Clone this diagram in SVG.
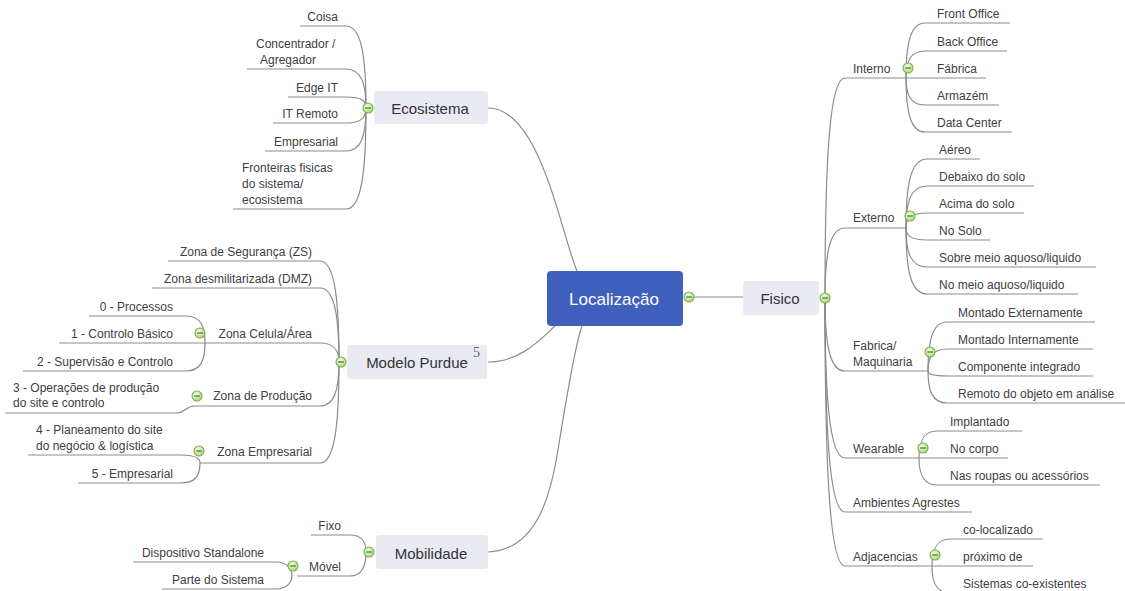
<svg xmlns="http://www.w3.org/2000/svg" xmlns:xlink="http://www.w3.org/1999/xlink" width="1125" height="591" viewBox="0 0 1125 591">
  <style>
    .ln { fill: none; stroke: #8c8c8c; stroke-width: 1.2; }
    .t { font-family: "Liberation Sans", Arial, sans-serif; font-size: 12px; fill: #404040; }
    .e { text-anchor: end; }
    .tb { font-family: "Liberation Sans", Arial, sans-serif; font-size: 15px; fill: #333; text-anchor: middle; }
    .box { fill: #E9EAF3; }
    .sup { font-family: "Liberation Serif", "Times New Roman", serif; font-size: 14px; fill: #666; }
  </style>
  <defs>
    <radialGradient id="togFill" cx="0.4" cy="0.35" r="0.7">
      <stop offset="0" stop-color="#f4fbe9"/>
      <stop offset="1" stop-color="#a9d67a"/>
    </radialGradient>
    <!-- collapse toggle: green circle with a minus sign -->
    <g id="tog">
      <circle cx="0" cy="0" r="5" fill="url(#togFill)" stroke="#74b043" stroke-width="1.1"/>
      <line x1="-2.8" y1="0" x2="2.8" y2="0" stroke="#4d7d2a" stroke-width="1.3"/>
    </g>
  </defs>
  <rect width="1125" height="591" fill="#ffffff"/>

  <!-- connectors -->
  <g id="connectors">
    <!-- root to main topics -->
    <path class="ln" d="M694,297 H743"/>
    <path class="ln" d="M488,108 C540,108 560,230 577,271"/>
    <path class="ln" d="M488,362 C520,362 540,340 555,326"/>
    <path class="ln" d="M488,552 C535,550 550,500 558,450 S575,345 582,326"/>

    <!-- Fisico branches -->
    <path class="ln" d="M825,298 C825,166 829,78 845,78 H906"/>
    <path class="ln" d="M825,298 C825,256 829,228 845,228 H906"/>
    <path class="ln" d="M825,298 C825,342 829,371 845,371 H928"/>
    <path class="ln" d="M825,298 C825,394 829,458 845,458 H919"/>
    <path class="ln" d="M825,298 C825,426 829,512 845,512 H972"/>
    <path class="ln" d="M825,298 C825,459 829,566 845,566 H932"/>

    <!-- Interno -->
    <path class="ln" d="M906,78 C906,45 910,23 925,23 H1010"/>
    <path class="ln" d="M906,78 C906,62 910,51 925,51 H1007"/>
    <path class="ln" d="M906,78 H986"/>
    <path class="ln" d="M906,78 C906,94 910,105 925,105 H999"/>
    <path class="ln" d="M906,78 C906,110 910,132 925,132 H1012"/>

    <!-- Externo -->
    <path class="ln" d="M906,228 C906,187 910,159 927,159 H980"/>
    <path class="ln" d="M906,228 C906,203 910,186 927,186 H1034"/>
    <path class="ln" d="M906,228 C906,219 910,213 927,213 H1024"/>
    <path class="ln" d="M906,228 C906,235 910,240 927,240 H990"/>
    <path class="ln" d="M906,228 C906,251 910,267 927,267 H1096"/>
    <path class="ln" d="M906,228 C906,268 910,294 927,294 H1078"/>

    <!-- Fabrica/Maquinaria -->
    <path class="ln" d="M928,371 C928,342 932,322 947,322 H1095"/>
    <path class="ln" d="M928,371 C928,358 932,349 947,349 H1093"/>
    <path class="ln" d="M928,371 C928,374 932,376 947,376 H1093"/>
    <path class="ln" d="M928,371 C928,390 932,403 947,403 H1125"/>

    <!-- Wearable -->
    <path class="ln" d="M919,458 C919,442 923,431 937,431 H1022"/>
    <path class="ln" d="M919,458 H1008"/>
    <path class="ln" d="M919,458 C919,474 923,485 937,485 H1100"/>

    <!-- Adjacencias -->
    <path class="ln" d="M932,566 C932,550 936,539 950,539 H1043"/>
    <path class="ln" d="M932,566 H1033"/>
    <path class="ln" d="M932,566 C932,582 936,593 950,593 H1100"/>

    <!-- Ecosistema -->
    <path class="ln" d="M366,108 C366,59 362,26 346,26 H300"/>
    <path class="ln" d="M366,108 C366,85 362,69 346,69 H247"/>
    <path class="ln" d="M366,108 C366,101 362,97 346,97 H288"/>
    <path class="ln" d="M366,108 C366,117 362,123 346,123 H273"/>
    <path class="ln" d="M366,108 C366,134 362,151 346,151 H265"/>
    <path class="ln" d="M366,108 C366,169 362,209 346,209 H233"/>

    <!-- Modelo Purdue -->
    <path class="ln" d="M339,362 C339,301 335,261 320,261 H168"/>
    <path class="ln" d="M339,362 C339,318 335,288 320,288 H152"/>
    <path class="ln" d="M339,362 C339,351 335,343 320,343 H205"/>
    <path class="ln" d="M339,362 C339,388 335,406 320,406 H195"/>
    <path class="ln" d="M339,362 C339,423 335,463 320,463 H200"/>

    <!-- Zona Celula/Área -->
    <path class="ln" d="M205,343 C205,327 201,316 186,316 H89"/>
    <path class="ln" d="M205,343 H59"/>
    <path class="ln" d="M205,343 C205,360 201,371 186,371 H23"/>

    <!-- Zona de Produção -->
    <path class="ln" d="M195,406 C185,406 186,413 176,413 H5"/>

    <!-- Zona Empresarial -->
    <path class="ln" d="M200,463 C200,459 196,455 181,455 H28"/>
    <path class="ln" d="M200,463 C200,475 196,483 181,483 H78"/>

    <!-- Mobilidade -->
    <path class="ln" d="M366,552 C366,542 362,535 350,535 H311"/>
    <path class="ln" d="M366,552 C366,566 362,576 350,576 H297"/>

    <!-- Móvel -->
    <path class="ln" d="M292,576 C292,570 288,562 276,562 H133"/>
    <path class="ln" d="M292,576 C292,581 288,589 276,589 H162"/>
  </g>

  <!-- root -->
  <g id="localizacao">
    <rect x="547" y="271" width="136" height="55" rx="4" fill="#4060BE"/>
    <text x="614" y="305" font-family="Liberation Sans, Arial, sans-serif" font-size="17" fill="#ffffff" text-anchor="middle">Localização</text>
    <use xlink:href="#tog" x="689" y="297"/>
  </g>

  <!-- Ecosistema -->
  <g id="ecosistema">
    <rect class="box" x="374" y="91" width="114" height="33" rx="3"/>
    <text class="tb" x="430" y="114">Ecosistema</text>
    <use xlink:href="#tog" x="368" y="108"/>
  </g>
  <g id="eco-coisa"><text class="t e" x="338" y="21">Coisa</text></g>
  <g id="eco-concentrador"><text class="t" x="256" y="48">Concentrador /</text><text class="t" x="260" y="64">Agregador</text></g>
  <g id="eco-edge"><text class="t e" x="338" y="92">Edge IT</text></g>
  <g id="eco-remoto"><text class="t e" x="338" y="118">IT Remoto</text></g>
  <g id="eco-empresarial"><text class="t e" x="338" y="146">Empresarial</text></g>
  <g id="eco-fronteiras"><text class="t" x="242" y="172">Fronteiras fisicas</text><text class="t" x="242" y="188">do sistema/</text><text class="t" x="242" y="204">ecosistema</text></g>

  <!-- Modelo Purdue -->
  <g id="purdue">
    <rect class="box" x="347" y="345" width="140" height="34" rx="3"/>
    <text class="tb" x="417" y="368">Modelo Purdue</text>
    <text class="sup" x="473" y="357">5</text>
    <use xlink:href="#tog" x="341" y="362"/>
  </g>
  <g id="purdue-zs"><text class="t e" x="312" y="256">Zona de Segurança (ZS)</text></g>
  <g id="purdue-dmz"><text class="t e" x="312" y="283">Zona desmilitarizada (DMZ)</text></g>
  <g id="purdue-celula">
    <text class="t e" x="312" y="338">Zona Celula/Área</text>
    <use xlink:href="#tog" x="200" y="333"/>
  </g>
  <g id="celula-0"><text class="t e" x="173" y="311">0 - Processos</text></g>
  <g id="celula-1"><text class="t e" x="173" y="338">1 - Controlo Básico</text></g>
  <g id="celula-2"><text class="t e" x="173" y="366">2 - Supervisão e Controlo</text></g>
  <g id="purdue-producao">
    <text class="t e" x="312" y="400">Zona de Produção</text>
    <use xlink:href="#tog" x="197" y="396"/>
  </g>
  <g id="producao-3"><text class="t" x="13" y="392">3 - Operações de produção</text><text class="t" x="13" y="407">do site e controlo</text></g>
  <g id="purdue-empresarial">
    <text class="t e" x="312" y="456">Zona Empresarial</text>
    <use xlink:href="#tog" x="199" y="451"/>
  </g>
  <g id="empresarial-4"><text class="t" x="36" y="434">4 - Planeamento do site</text><text class="t" x="36" y="450">do negócio &amp; logística</text></g>
  <g id="empresarial-5"><text class="t e" x="173" y="478">5 - Empresarial</text></g>

  <!-- Mobilidade -->
  <g id="mobilidade">
    <rect class="box" x="376" y="535" width="112" height="34" rx="3"/>
    <text class="tb" x="431" y="559">Mobilidade</text>
    <use xlink:href="#tog" x="369" y="552"/>
  </g>
  <g id="mob-fixo"><text class="t e" x="341" y="530">Fixo</text></g>
  <g id="mob-movel">
    <text class="t e" x="341" y="571">Móvel</text>
    <use xlink:href="#tog" x="293" y="566"/>
  </g>
  <g id="movel-standalone"><text class="t e" x="264" y="557">Dispositivo Standalone</text></g>
  <g id="movel-parte"><text class="t e" x="264" y="584">Parte do Sistema</text></g>

  <!-- Fisico -->
  <g id="fisico">
    <rect class="box" x="743" y="281" width="76" height="34" rx="3"/>
    <text class="tb" x="780" y="304">Fisico</text>
    <use xlink:href="#tog" x="825" y="298"/>
  </g>

  <g id="interno">
    <text class="t" x="853" y="73">Interno</text>
    <use xlink:href="#tog" x="908" y="68"/>
  </g>
  <g id="int-front"><text class="t" x="937" y="18">Front Office</text></g>
  <g id="int-back"><text class="t" x="937" y="46">Back Office</text></g>
  <g id="int-fabrica"><text class="t" x="937" y="73">Fábrica</text></g>
  <g id="int-armazem"><text class="t" x="937" y="100">Armazém</text></g>
  <g id="int-datacenter"><text class="t" x="937" y="127">Data Center</text></g>

  <g id="externo">
    <text class="t" x="853" y="222">Externo</text>
    <use xlink:href="#tog" x="910" y="216"/>
  </g>
  <g id="ext-aereo"><text class="t" x="939" y="154">Aéreo</text></g>
  <g id="ext-debaixo"><text class="t" x="939" y="181">Debaixo do solo</text></g>
  <g id="ext-acima"><text class="t" x="939" y="208">Acima do solo</text></g>
  <g id="ext-nosolo"><text class="t" x="939" y="235">No Solo</text></g>
  <g id="ext-sobre"><text class="t" x="939" y="262">Sobre meio aquoso/liquido</text></g>
  <g id="ext-nomeio"><text class="t" x="939" y="289">No meio aquoso/liquido</text></g>

  <g id="fabrica">
    <text class="t" x="853" y="350">Fabrica/</text>
    <text class="t" x="853" y="366">Maquinaria</text>
    <use xlink:href="#tog" x="930" y="352"/>
  </g>
  <g id="fab-ext"><text class="t" x="958" y="317">Montado Externamente</text></g>
  <g id="fab-int"><text class="t" x="958" y="344">Montado Internamente</text></g>
  <g id="fab-comp"><text class="t" x="958" y="371">Componente integrado</text></g>
  <g id="fab-remoto"><text class="t" x="958" y="398">Remoto do objeto em análise</text></g>

  <g id="wearable">
    <text class="t" x="853" y="453">Wearable</text>
    <use xlink:href="#tog" x="923" y="448"/>
  </g>
  <g id="wear-implantado"><text class="t" x="950" y="426">Implantado</text></g>
  <g id="wear-corpo"><text class="t" x="950" y="453">No corpo</text></g>
  <g id="wear-roupas"><text class="t" x="950" y="480">Nas roupas ou acessórios</text></g>

  <g id="ambientes"><text class="t" x="853" y="507">Ambientes Agrestes</text></g>

  <g id="adjacencias">
    <text class="t" x="853" y="561">Adjacencias</text>
    <use xlink:href="#tog" x="935" y="555"/>
  </g>
  <g id="adj-colocalizado"><text class="t" x="963" y="534">co-localizado</text></g>
  <g id="adj-proximo"><text class="t" x="963" y="561">próximo de</text></g>
  <g id="adj-sistemas"><text class="t" x="963" y="588">Sistemas co-existentes</text></g>
</svg>
